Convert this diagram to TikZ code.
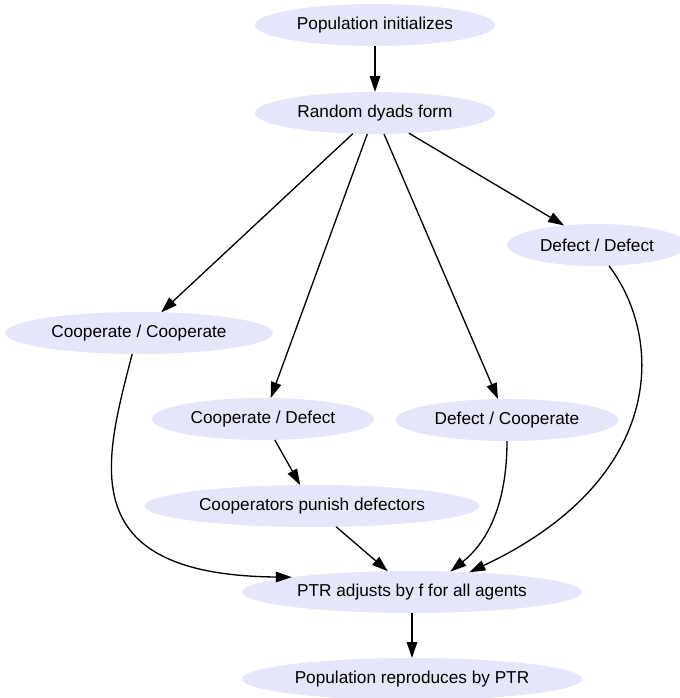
\documentclass[tikz,border=0pt]{standalone}
\usepackage{fontspec}
\setmainfont{Liberation Sans}
\usetikzlibrary{shapes.geometric,arrows.meta}
\definecolor{lav}{HTML}{E6E6FA}
\begin{document}
\begin{tikzpicture}[x=0.02cm,y=-0.02cm,
        box/.style={ellipse,fill=lav,inner sep=0pt,outer sep=0pt,minimum height=0.84cm,font=\fontsize{9.8}{11.5}\selectfont},
        flow/.style={-{Triangle[length=0.32cm,width=0.21cm]},line width=0.75pt}]
        \useasboundingbox (0,0) rectangle (680,698);
        \node[box,minimum width=4.8cm] (init) at (375,25) {Population initializes};
        \node[box,minimum width=4.8cm] (dyads) at (375,113) {Random dyads form};
        \node[box,minimum width=3.6cm] (dd) at (597,245) {Defect / Defect};
        \node[box,minimum width=5.36cm] (cc) at (139,333) {Cooperate / Cooperate};
        \node[box,minimum width=4.44cm] (cd) at (263,419) {Cooperate / Defect};
        \node[box,minimum width=4.46cm] (dc) at (507,420) {Defect / Cooperate};
        \node[box,minimum width=6.7cm] (punish) at (312,506) {Cooperators punish defectors};
        \node[box,minimum width=6.8cm] (ptr) at (412,592) {PTR adjusts by f for all agents};
        \node[box,minimum width=6.8cm] (repro) at (412,679) {Population reproduces by PTR};
        \draw[flow] (init) -- (dyads);
        \draw[flow] (dyads) -- (cc);
        \draw[flow] (dyads) -- (cd);
        \draw[flow] (dyads) -- (dc);
        \draw[flow] (dyads) -- (dd);
        \draw[flow] (cd) -- (punish);
        \draw[flow] (punish) -- (ptr);
        \draw[flow] (cc.-108) .. controls (105,460) and (70,575) .. (ptr.north west);
        \draw[flow] (dc.south) .. controls (507,500) and (490,540) .. (ptr.28);
        \draw[flow] (dd.-60) .. controls (665,340) and (665,480) .. (ptr.19);
        \draw[flow] (ptr) -- (repro);
    \end{tikzpicture}
\end{document}
